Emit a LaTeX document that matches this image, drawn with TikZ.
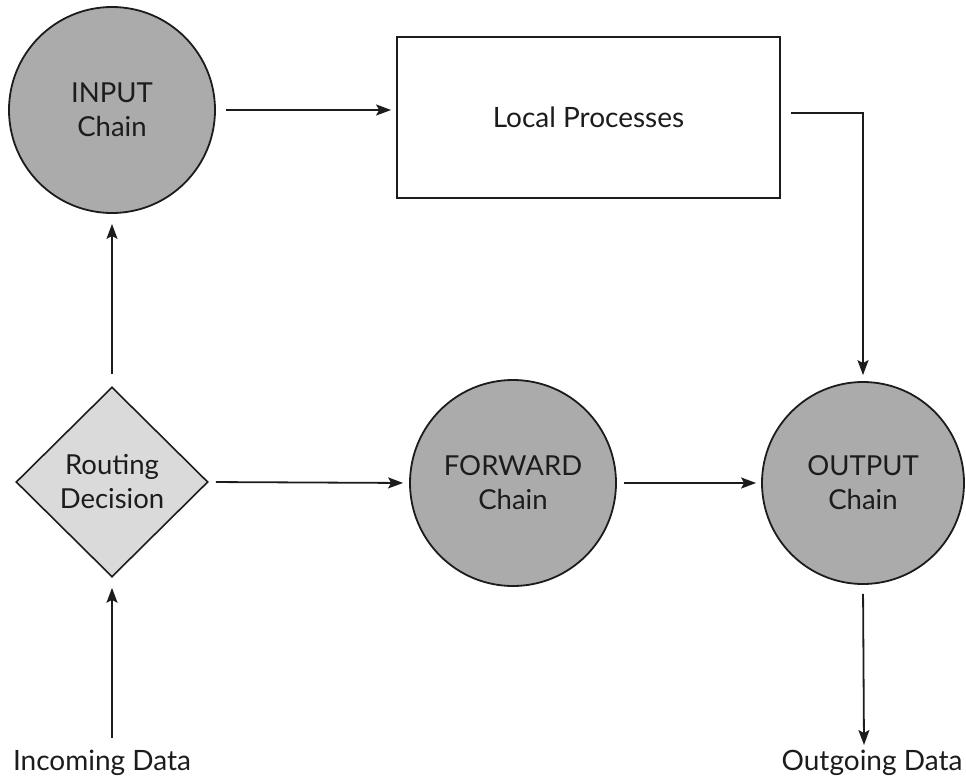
\documentclass[tikz,border=0pt]{standalone}
\usepackage{fontspec}
\setmainfont{Lato}
\usetikzlibrary{shapes.geometric,arrows.meta}
\definecolor{chaingray}{HTML}{ABABAB}
\definecolor{decgray}{HTML}{DADADA}
\definecolor{ink}{HTML}{1C1C1C}
\begin{document}
\begin{tikzpicture}[x=1pt,y=-1pt,
  chainnode/.style={circle, draw=ink, line width=1.8pt, fill=chaingray, minimum size=206pt, inner sep=0pt, align=center, font=\fontsize{27.5}{34}\selectfont, text=ink},
  procbox/.style={rectangle, draw=ink, line width=1.8pt, fill=white, minimum width=383pt, minimum height=161pt, inner sep=0pt, font=\fontsize{28}{34}\selectfont, text=ink},
  decision/.style={diamond, draw=ink, line width=1.6pt, fill=decgray, minimum width=192pt, minimum height=190pt, inner sep=0pt, align=center, font=\fontsize{27.5}{34}\selectfont, text=ink},
  endlabel/.style={anchor=base, inner sep=0pt, font=\fontsize{28}{34}\selectfont, text=ink},
  arr/.style={draw=ink, line width=1.8pt, -{Stealth[length=15pt,width=11pt,inset=3pt]}}
]
\useasboundingbox (0,0) rectangle (966,776);
\node[chainnode] (inp) at (112,110) {INPUT\\Chain};
\node[procbox] (lp) at (588.5,117.5) {Local Processes};
\node[decision] (rd) at (112,482) {Routing\\Decision};
\node[chainnode] (fwd) at (513,483) {FORWARD\\Chain};
\node[chainnode, minimum size=202pt] (out) at (863,483) {OUTPUT\\Chain};
\coordinate (inc) at (112,738);
\coordinate (outg) at (864,745);
\node[endlabel] (inct) at (102,770) {Incoming Data};
\node[endlabel] (outt) at (872,770) {Outgoing Data};

\draw[arr, shorten <=10pt, shorten >=5pt] (inp.east) -- (inp.east -| lp.west);
\draw[arr, shorten >=6pt] ([shift={(10,-4.5)}]lp.east) -| (out.north);
\draw[arr, shorten <=12pt, shorten >=10pt] (rd.north) -- (inp.south);
\draw[arr, shorten >=10pt] (inc) -- (rd.south);
\draw[arr, shorten <=7pt, shorten >=6pt] (rd.east) -- (fwd.west);
\draw[arr, shorten <=7pt, shorten >=5pt] (fwd.east) -- (out.west);
\draw[arr, shorten <=9pt] (out.south) -- (outg);
\end{tikzpicture}
\end{document}
